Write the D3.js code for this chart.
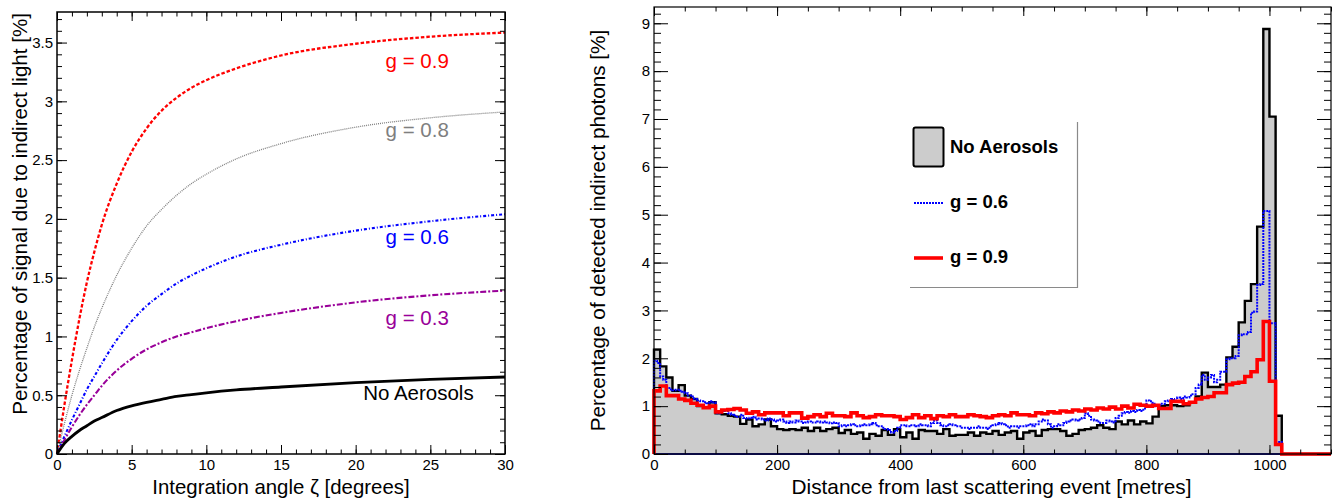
<!DOCTYPE html>
<html>
<head>
<meta charset="utf-8">
<script src="https://cdn.jsdelivr.net/npm/d3@7"></script>
<style>
  body { margin: 0; background: #fff; }
  svg { display: block; }
  text { font-family: "Liberation Sans", Arial, Helvetica, sans-serif; }
</style>
</head>
<body>
<script>
// ---- left panel: signal fraction vs integration angle ----
const angle = [0, 0.5, 1, 1.5, 2, 2.5, 3, 4, 5, 6, 7, 8, 9, 10, 12, 15, 20, 25, 30];
const g09 = [0, 0.42, 0.80, 1.15, 1.46, 1.72, 1.95, 2.30, 2.57, 2.77, 2.92, 3.03, 3.115, 3.18, 3.28, 3.39, 3.49, 3.55, 3.585];
const g08 = [0, 0.26, 0.50, 0.71, 0.90, 1.08, 1.24, 1.52, 1.75, 1.94, 2.08, 2.20, 2.30, 2.38, 2.51, 2.64, 2.78, 2.86, 2.91];
const g06 = [0, 0.15, 0.29, 0.42, 0.55, 0.66, 0.77, 0.97, 1.13, 1.26, 1.36, 1.45, 1.52, 1.58, 1.68, 1.78, 1.90, 1.98, 2.04];
const g03 = [0, 0.12, 0.23, 0.33, 0.42, 0.50, 0.58, 0.71, 0.81, 0.89, 0.95, 1.00, 1.035, 1.07, 1.13, 1.20, 1.29, 1.35, 1.39];
const noAer = [0, 0.09, 0.15, 0.20, 0.24, 0.28, 0.31, 0.37, 0.41, 0.44, 0.465, 0.49, 0.505, 0.52, 0.545, 0.57, 0.607, 0.635, 0.655];

const curveNames = ["g = 0.9", "g = 0.8", "g = 0.6", "g = 0.3", "No Aerosols"];
const curveLabelX = [22, 22, 22, 22, 20.5];
const curveLabelY = [3.28, 2.70, 1.79, 1.10, 0.46];

const angleMajor = [0, 5, 10, 15, 20, 25, 30];
const angleMinor = d3.range(0, 31, 1);
const pctMajor = [0, 0.5, 1, 1.5, 2, 2.5, 3, 3.5];
const pctMinor = d3.range(0, 3.75, 0.1);

// ---- right panel: histograms, 10 m bins (g = 0.6 in 5 m bins) ----
const distMax = 1100;
const histNoAer = [
  2.18, 1.83, 1.60, 1.32, 1.44, 1.22, 1.15, 1.00, 0.97, 1.08,
  0.85, 0.83, 0.80, 0.78, 0.63, 0.72, 0.58, 0.62, 0.72, 0.58,
  0.52, 0.50, 0.52, 0.50, 0.55, 0.48, 0.55, 0.48, 0.52, 0.55,
  0.44, 0.50, 0.42, 0.45, 0.32, 0.42, 0.38, 0.50, 0.40, 0.52,
  0.35, 0.45, 0.32, 0.50, 0.48, 0.48, 0.42, 0.52, 0.38, 0.40,
  0.40, 0.45, 0.38, 0.45, 0.42, 0.48, 0.40, 0.45, 0.48, 0.32,
  0.45, 0.48, 0.38, 0.50, 0.52, 0.52, 0.48, 0.38, 0.42, 0.50,
  0.52, 0.55, 0.60, 0.55, 0.52, 0.68, 0.62, 0.70, 0.62, 0.68,
  0.64, 0.78, 1.00, 1.02, 1.02, 1.00, 1.02, 1.08, 1.20, 1.70,
  1.40, 1.40, 1.45, 2.02, 2.24, 2.75, 3.20, 3.55, 4.75, 8.88,
  7.05, 0.80, 0, 0, 0, 0, 0, 0, 0, 0
];
const histG09 = [
  1.32, 1.42, 1.22, 1.22, 1.15, 1.12, 1.06, 1.02, 0.97, 1.00,
  0.88, 0.92, 0.93, 0.95, 0.92, 0.85, 0.88, 0.82, 0.86, 0.86,
  0.86, 0.80, 0.86, 0.86, 0.75, 0.78, 0.82, 0.78, 0.85, 0.80,
  0.80, 0.78, 0.86, 0.80, 0.76, 0.78, 0.82, 0.80, 0.80, 0.78,
  0.72, 0.76, 0.82, 0.76, 0.80, 0.74, 0.80, 0.78, 0.82, 0.78,
  0.78, 0.82, 0.80, 0.78, 0.76, 0.80, 0.82, 0.80, 0.86, 0.82,
  0.82, 0.80, 0.86, 0.84, 0.88, 0.86, 0.90, 0.88, 0.92, 0.90,
  0.94, 0.92, 0.96, 0.94, 0.98, 0.94, 1.00, 0.96, 1.04, 1.02,
  1.00, 1.02, 0.95, 0.95, 1.10, 1.10, 1.05, 1.08, 1.15, 1.18,
  1.20, 1.28, 1.28, 1.45, 1.48, 1.50, 1.62, 1.72, 1.97, 2.77,
  1.52, 0.20, 0, 0, 0, 0, 0, 0, 0, 0
];
const histG06 = [
  1.95, 1.90, 1.62, 1.55, 1.38, 1.35, 1.33, 1.34, 1.32, 1.30, 1.27, 1.22, 1.20, 1.15, 1.12, 1.10, 1.08, 1.06, 1.10, 1.08,
  0.85, 0.85, 0.90, 0.92, 0.85, 0.82, 0.80, 0.78, 0.82, 0.75, 0.74, 0.76, 0.78, 0.72, 0.74, 0.72, 0.70, 0.74, 0.72, 0.68,
  0.70, 0.72, 0.68, 0.65, 0.68, 0.66, 0.70, 0.68, 0.65, 0.66, 0.68, 0.66, 0.66, 0.68, 0.66, 0.68, 0.66, 0.64, 0.66, 0.65,
  0.58, 0.60, 0.58, 0.60, 0.62, 0.60, 0.58, 0.60, 0.62, 0.60, 0.62, 0.65, 0.60, 0.58, 0.55, 0.52, 0.50, 0.45, 0.48, 0.55,
  0.60, 0.60, 0.58, 0.60, 0.60, 0.58, 0.62, 0.60, 0.60, 0.58, 0.65, 0.70, 0.65, 0.60, 0.58, 0.60, 0.62, 0.60, 0.58, 0.58,
  0.55, 0.55, 0.52, 0.55, 0.55, 0.58, 0.55, 0.55, 0.52, 0.58, 0.60, 0.62, 0.65, 0.62, 0.60, 0.55, 0.58, 0.58, 0.55, 0.58,
  0.58, 0.60, 0.62, 0.58, 0.62, 0.68, 0.72, 0.70, 0.62, 0.55, 0.58, 0.62, 0.60, 0.65, 0.68, 0.70, 0.72, 0.70, 0.72, 0.75,
  0.85, 0.80, 0.72, 0.70, 0.68, 0.65, 0.65, 0.70, 0.68, 0.66, 0.75, 0.80, 0.85, 0.88, 0.86, 0.90, 0.88, 0.92, 0.90, 0.95,
  1.12, 1.10, 1.05, 1.00, 1.02, 1.05, 1.10, 1.12, 1.15, 1.12, 1.18, 1.15, 1.20, 1.18, 1.22, 1.25, 1.38, 1.45, 1.65, 1.55,
  1.60, 1.65, 1.50, 1.55, 1.72, 1.72, 1.98, 2.00, 2.00, 2.05, 2.48, 2.50, 2.50, 2.55, 2.95, 2.98, 3.53, 3.55, 5.08, 5.08,
  2.73, 2.73, 0.25, 0.25, 0, 0, 0, 0, 0, 0, 0, 0, 0, 0, 0, 0, 0, 0, 0, 0
];
const legendNames = ["No Aerosols", "g = 0.6", "g = 0.9"];

const distMajor = [0, 200, 400, 600, 800, 1000];
const distMinor = d3.range(0, 1101, 50);
const photMajor = d3.range(0, 10, 1);
const photMinor = d3.range(0, 9.3, 0.2);

window.onload = function() {
    const svg = d3.select("body").append("svg")
        .attr("width", 1340)
        .attr("height", 498);

    // scales
    const xL = d3.scaleLinear([0, 30], [57, 505]);
    const yL = d3.scaleLinear([0, 3.76], [454, 12]);
    const xR = d3.scaleLinear([0, distMax], [654, 1331]);
    const yR = d3.scaleLinear([0, 9.34], [454, 7]);

    // ---------- left panel ----------
    const styles = [
        {data: g09, color: "#ff0000", width: 2.3, dash: "3.5,2"},
        {data: g08, color: "#7f7f7f", width: 1.3, dash: "1,1"},
        {data: g06, color: "#0000ff", width: 2.1, dash: "3,2,1,2"},
        {data: g03, color: "#990099", width: 2.1, dash: "6,2,2,2"},
        {data: noAer, color: "#000000", width: 2.8, dash: null}
    ];
    const lineL = d3.line()
        .x(d => xL(d[0]))
        .y(d => yL(d[1]))
        .curve(d3.curveMonotoneX);

    styles.forEach(function(s) {
        svg.append("path")
            .datum(angle.map((a, i) => [a, s.data[i]]))
            .attr("fill", "none")
            .attr("stroke", s.color)
            .attr("stroke-width", s.width)
            .attr("stroke-dasharray", s.dash)
            .attr("d", lineL);
    });

    svg.append("g").selectAll("text")
        .data(curveNames)
        .join("text")
        .attr("x", (d, i) => xL(curveLabelX[i]))
        .attr("y", (d, i) => yL(curveLabelY[i]))
        .attr("fill", (d, i) => styles[i].color)
        .attr("font-size", "20.5px")
        .text(d => d);

    drawFrame(svg, xL, yL, angleMajor, angleMinor, pctMajor, pctMinor,
        {xMaj: 9, xMin: 4.5, yMaj: 10, yMin: 5, sw: 1.3, fy: d3.format("~g")});

    svg.append("text")
        .attr("x", (xL(0) + xL(30)) / 2)
        .attr("y", 494)
        .attr("text-anchor", "middle")
        .attr("font-size", "20.4px")
        .text("Integration angle ζ [degrees]");

    svg.append("text")
        .attr("transform", "translate(27,13) rotate(-90)")
        .attr("text-anchor", "end")
        .attr("font-size", "20.6px")
        .text("Percentage of signal due to indirect light [%]");

    // ---------- right panel ----------
    const w10 = 10, w5 = 5;
    function steps(vals, w) {
        const pts = [[0, 0]];
        vals.forEach((v, i) => pts.push([i * w, v]));
        pts.push([vals.length * w, vals[vals.length - 1]]);
        pts.push([vals.length * w, 0]);
        return pts;
    }
    const stepLine = d3.line()
        .x(d => xR(d[0]))
        .y(d => yR(d[1]))
        .curve(d3.curveStepAfter);
    const stepArea = d3.area()
        .x(d => xR(d[0]))
        .y0(yR(0))
        .y1(d => yR(d[1]))
        .curve(d3.curveStepAfter);

    svg.append("path")
        .datum(steps(histNoAer, w10))
        .attr("fill", "#cccccc")
        .attr("d", stepArea);
    svg.append("path")
        .datum(steps(histNoAer, w10))
        .attr("fill", "none")
        .attr("stroke", "#000")
        .attr("stroke-width", 2.4)
        .attr("d", stepLine);

    // baseline of the g = 0.6 histogram
    svg.append("line")
        .attr("x1", xR(0)).attr("x2", xR(distMax))
        .attr("y1", yR(0)).attr("y2", yR(0))
        .attr("stroke", "#1c1ca8")
        .attr("stroke-width", 2.2);

    svg.append("path")
        .datum(steps(histG06, w5))
        .attr("fill", "none")
        .attr("stroke", "#0000ff")
        .attr("stroke-width", 2)
        .attr("stroke-dasharray", "2,1")
        .attr("d", stepLine);

    svg.append("path")
        .datum(steps(histG09, w10))
        .attr("fill", "none")
        .attr("stroke", "#ff0000")
        .attr("stroke-width", 3.6)
        .attr("d", stepLine);

    drawFrame(svg, xR, yR, distMajor, distMinor, photMajor, photMinor,
        {xMaj: 9, xMin: 4.5, yMaj: 14, yMin: 7, sw: 1, fy: d3.format("d")});

    svg.append("text")
        .attr("x", (xR(0) + xR(distMax)) / 2 - 1)
        .attr("y", 494)
        .attr("text-anchor", "middle")
        .attr("font-size", "20.8px")
        .text("Distance from last scattering event [metres]");

    svg.append("text")
        .attr("transform", `translate(605,${(yR(0) + yR(9.34)) / 2}) rotate(-90)`)
        .attr("text-anchor", "middle")
        .attr("font-size", "20.7px")
        .text("Percentage of detected indirect photons [%]");

    // legend
    const leg = svg.append("g");
    leg.append("path")
        .attr("d", "M910,287.5H1077.5V122")
        .attr("fill", "none")
        .attr("stroke", "#8a8a8a")
        .attr("stroke-width", 1.2);
    leg.append("rect")
        .attr("x", 913.5).attr("y", 127.5)
        .attr("width", 30).attr("height", 39)
        .attr("rx", 2)
        .attr("fill", "#cccccc")
        .attr("stroke", "#000")
        .attr("stroke-width", 2);
    leg.append("line")
        .attr("x1", 914).attr("x2", 943).attr("y1", 203).attr("y2", 203)
        .attr("stroke", "#0000ff").attr("stroke-width", 2)
        .attr("stroke-dasharray", "2,1");
    leg.append("line")
        .attr("x1", 914).attr("x2", 943).attr("y1", 258).attr("y2", 258)
        .attr("stroke", "#ff0000").attr("stroke-width", 3.6);
    leg.selectAll("text")
        .data(legendNames)
        .join("text")
        .attr("x", 950)
        .attr("y", (d, i) => [153, 208, 263][i])
        .attr("font-size", "18.5px")
        .attr("font-weight", "bold")
        .text(d => d);
};

function drawFrame(svg, x, y, xMaj, xMin, yMaj, yMin, o) {
    const [xa, xb] = x.range();
    const [ya, yb] = y.range();
    const noDomain = g => g.select(".domain").remove();

    // bottom
    svg.append("g").attr("transform", `translate(0,${ya})`)
        .call(d3.axisBottom(x).tickValues(xMin).tickSize(-o.xMin).tickFormat(""))
        .call(noDomain);
    svg.append("g").attr("transform", `translate(0,${ya})`)
        .call(d3.axisBottom(x).tickValues(xMaj).tickSize(-o.xMaj).tickPadding(5).tickFormat(d3.format("d")))
        .call(noDomain);
    // top
    svg.append("g").attr("transform", `translate(0,${yb})`)
        .call(d3.axisTop(x).tickValues(xMin).tickSize(-o.xMin).tickFormat(""))
        .call(noDomain);
    svg.append("g").attr("transform", `translate(0,${yb})`)
        .call(d3.axisTop(x).tickValues(xMaj).tickSize(-o.xMaj).tickFormat(""))
        .call(noDomain);
    // left
    svg.append("g").attr("transform", `translate(${xa},0)`)
        .call(d3.axisLeft(y).tickValues(yMin).tickSize(-o.yMin).tickFormat(""))
        .call(noDomain);
    svg.append("g").attr("transform", `translate(${xa},0)`)
        .call(d3.axisLeft(y).tickValues(yMaj).tickSize(-o.yMaj).tickPadding(4).tickFormat(o.fy))
        .call(noDomain);
    // right
    svg.append("g").attr("transform", `translate(${xb},0)`)
        .call(d3.axisRight(y).tickValues(yMin).tickSize(-o.yMin).tickFormat(""))
        .call(noDomain);
    svg.append("g").attr("transform", `translate(${xb},0)`)
        .call(d3.axisRight(y).tickValues(yMaj).tickSize(-o.yMaj).tickFormat(""))
        .call(noDomain);

    svg.selectAll(".tick line").attr("stroke-width", o.sw);
    svg.selectAll(".tick text")
        .attr("font-size", "15px")
        .attr("font-family", "'Liberation Sans', Arial, sans-serif")
        .attr("fill", "#000");

    svg.append("rect")
        .attr("x", xa).attr("y", yb)
        .attr("width", xb - xa).attr("height", ya - yb)
        .attr("fill", "none")
        .attr("stroke", "#000")
        .attr("stroke-width", o.sw + 0.2);
}
</script>
</body>
</html>
